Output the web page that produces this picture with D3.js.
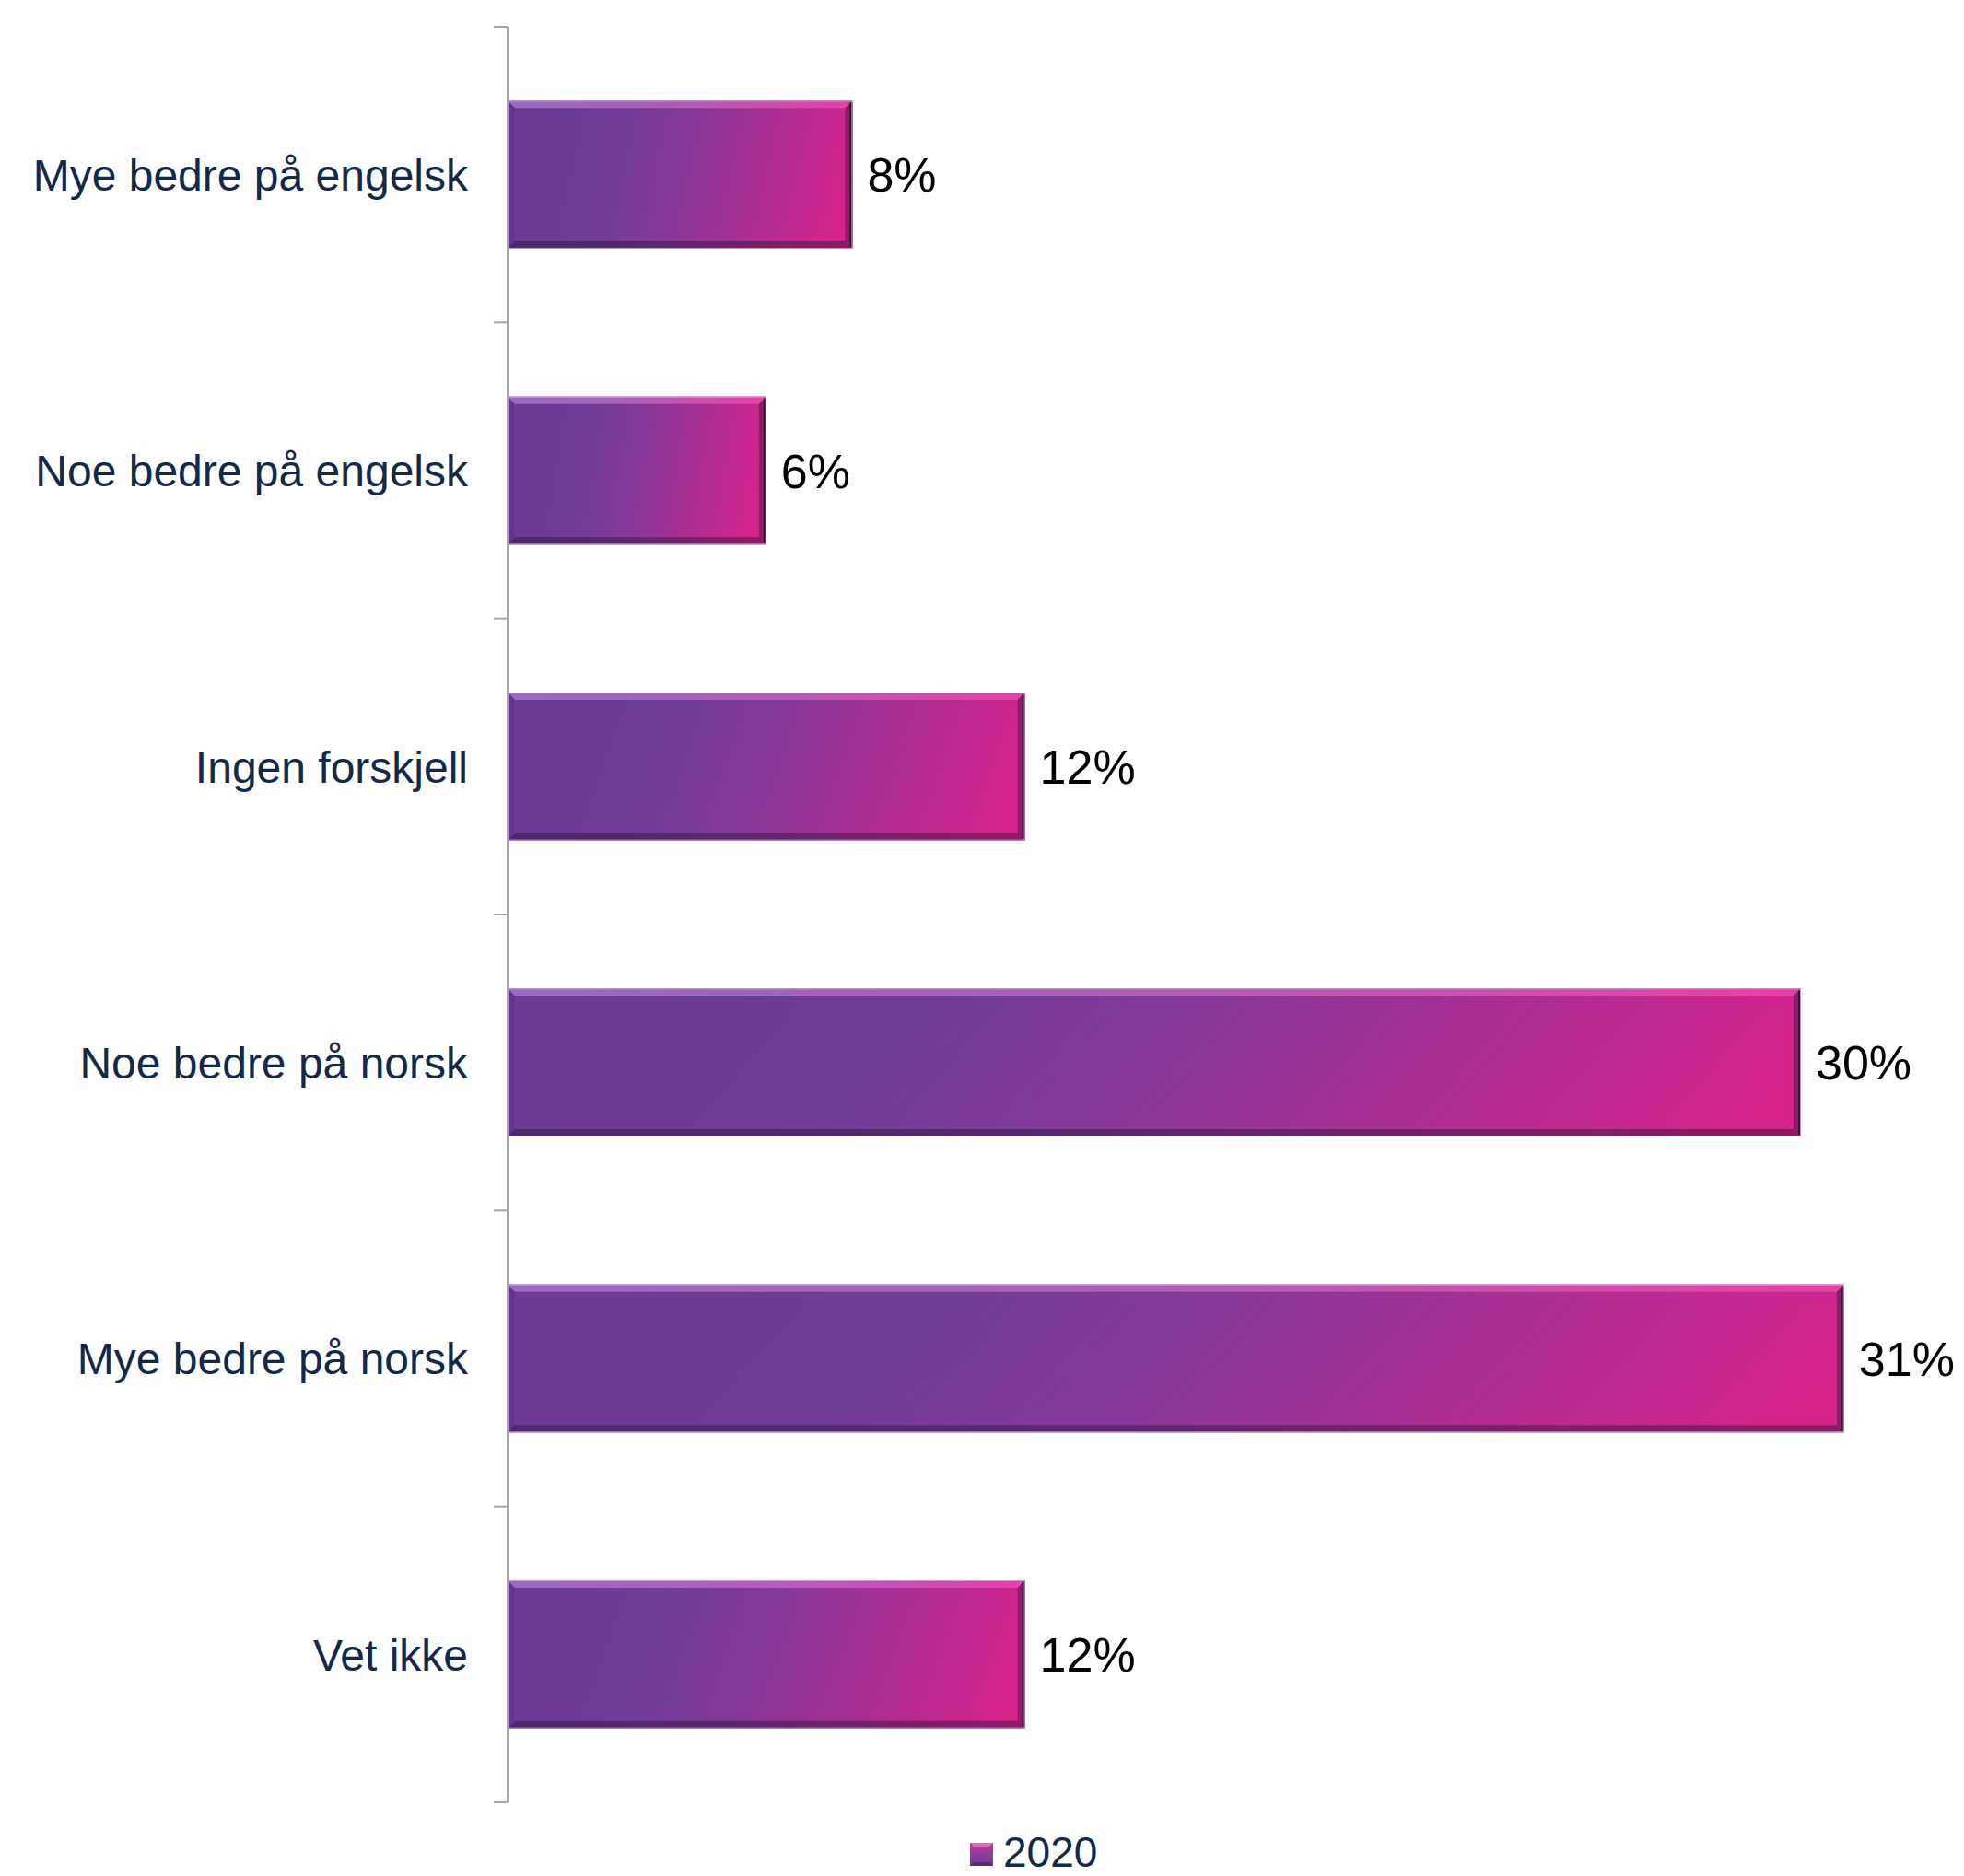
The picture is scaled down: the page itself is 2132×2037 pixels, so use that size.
<!DOCTYPE html>
<html>
<head>
<meta charset="utf-8">
<script src="https://cdn.jsdelivr.net/npm/d3@7"></script>
<style>
  html, body { margin: 0; padding: 0; background: #ffffff; }
  svg { display: block; }
</style>
</head>
<body>
<svg id="chart" width="2132" height="2037"></svg>
<script>
// Survey answers, share of respondents (2020)
const categories = [
  "Mye bedre på engelsk",
  "Noe bedre på engelsk",
  "Ingen forskjell",
  "Noe bedre på norsk",
  "Mye bedre på norsk",
  "Vet ikke"
];
const values2020 = [0.08, 0.06, 0.12, 0.30, 0.31, 0.12];
const seriesNames = ["2020"];

const svg = d3.select("#chart");

const axisX = 551;
const x = d3.scaleLinear().domain([0, 0.35]).range([axisX, axisX + 0.35 * 4680]);
const y = d3.scaleBand().domain(categories).range([29, 1957]).paddingInner(0.5).paddingOuter(0.25);

const defs = svg.append("defs");

// Main bar gradient: purple on the left fading into magenta on the right
const grad = defs.append("linearGradient")
  .attr("id", "barFill")
  .attr("x1", "0").attr("y1", "0.45").attr("x2", "1").attr("y2", "0.55");
[
  [0.00, "#6c3b95"],
  [0.28, "#6f3c97"],
  [0.48, "#85389a"],
  [0.68, "#a23095"],
  [0.87, "#c2288f"],
  [1.00, "#d8228c"]
].forEach(([o, c]) => grad.append("stop").attr("offset", o).attr("stop-color", c));

// Top highlight gradient (lavender to pink)
const hgrad = defs.append("linearGradient")
  .attr("id", "hiFill").attr("x1", "0").attr("y1", "0").attr("x2", "1").attr("y2", "0");
[[0, "#a77ad0"], [0.5, "#c06ac0"], [1, "#f04ab0"]]
  .forEach(([o, c]) => hgrad.append("stop").attr("offset", o).attr("stop-color", c));

// Legend swatch gradient (vertical)
const lgrad = defs.append("linearGradient")
  .attr("id", "legFill").attr("x1", "0").attr("y1", "0").attr("x2", "0").attr("y2", "1");
[[0, "#d2309a"], [0.5, "#8e3a9c"], [1, "#6a3c96"]]
  .forEach(([o, c]) => lgrad.append("stop").attr("offset", o).attr("stop-color", c));

const data = categories.map((c, i) => ({ cat: c, v: values2020[i] }));

// Bevelled bars
const bevel = 8;
const bars = svg.append("g").attr("class", "bars")
  .selectAll("g").data(data).join("g");

bars.each(function (d) {
  const g = d3.select(this);
  const x0 = x(0), x1 = x(d.v), y0 = y(d.cat), y1 = y0 + y.bandwidth();
  g.append("rect")
    .attr("x", x0).attr("y", y0)
    .attr("width", x1 - x0).attr("height", y1 - y0)
    .attr("fill", "url(#barFill)");
  const b = bevel;
  const poly = (pts, fill, op) => g.append("polygon")
    .attr("points", pts.map(p => p.join(",")).join(" "))
    .attr("fill", fill).attr("fill-opacity", op);
  // top highlight
  poly([[x0, y0], [x1, y0], [x1 - b, y0 + b], [x0 + b, y0 + b]], "url(#hiFill)", 0.75);
  // bottom shade
  poly([[x0, y1], [x1, y1], [x1 - b, y1 - b], [x0 + b, y1 - b]], "#1a0a2a", 0.38);
  // right shade
  poly([[x1, y0], [x1, y1], [x1 - b, y1 - b], [x1 - b, y0 + b]], "#1a0a2a", 0.35);
  // left shade
  poly([[x0, y0], [x0, y1], [x0 + b, y1 - b], [x0 + b, y0 + b]], "#1a0a2a", 0.1);
  // dark rim on the right end
  g.append("line")
    .attr("x1", x1 - 1.5).attr("x2", x1 - 1.5).attr("y1", y0 + 2).attr("y2", y1 - 2)
    .attr("stroke", "#2a0f2a").attr("stroke-width", 3).attr("stroke-opacity", 0.85);
  g.append("rect")
    .attr("x", x0 + 0.5).attr("y", y0 + 0.5)
    .attr("width", x1 - x0 - 1).attr("height", y1 - y0 - 1)
    .attr("fill", "none").attr("stroke", "#c59ad0").attr("stroke-width", 1);
});

// Category axis line
const axis = d3.axisLeft(y).tickSize(0).tickFormat(() => "");
const axisG = svg.append("g").attr("transform", `translate(${axisX},0)`).call(axis);
axisG.select(".domain").attr("stroke", "#a6a6a6").attr("stroke-width", 2)
  .attr("d", `M0,${y.range()[0]}V${y.range()[1]}`);

// Tick marks at the band boundaries
const step = y.step();
const boundaries = d3.range(categories.length + 1).map(i => y.range()[0] + i * step);
svg.append("g").selectAll("line").data(boundaries).join("line")
  .attr("x1", axisX - 15).attr("x2", axisX)
  .attr("y1", d => d).attr("y2", d => d)
  .attr("stroke", "#a6a6a6").attr("stroke-width", 2);

// Category labels
svg.append("g").selectAll("text").data(categories).join("text")
  .attr("x", 508)
  .attr("y", d => y(d) + y.bandwidth() / 2)
  .attr("dy", "0.36em")
  .attr("text-anchor", "end")
  .attr("font-family", "Liberation Sans, Arial, sans-serif")
  .attr("font-size", 48)
  .attr("fill", "#14284a")
  .text(d => d);

// Value labels
const fmt = d3.format(".0%");
svg.append("g").selectAll("text").data(data).join("text")
  .attr("x", d => x(d.v) + 16)
  .attr("y", d => y(d.cat) + y.bandwidth() / 2)
  .attr("dy", "0.36em")
  .attr("font-family", "Liberation Sans, Arial, sans-serif")
  .attr("font-size", 52)
  .attr("fill", "#000000")
  .text(d => fmt(d.v));

// Legend
const leg = svg.append("g").attr("transform", "translate(1053,2001)");
leg.append("rect").attr("width", 25).attr("height", 25).attr("fill", "url(#legFill)");
leg.append("polygon").attr("points", "0,0 25,0 21,4 4,4").attr("fill", "#fff").attr("fill-opacity", 0.3);
leg.append("polygon").attr("points", "0,25 25,25 21,21 4,21").attr("fill", "#1a0a2a").attr("fill-opacity", 0.3);
leg.append("text")
  .attr("x", 36).attr("y", 26)
  .attr("font-family", "Liberation Sans, Arial, sans-serif")
  .attr("font-size", 46)
  .attr("fill", "#14284a")
  .text(seriesNames[0]);
</script>
</body>
</html>
